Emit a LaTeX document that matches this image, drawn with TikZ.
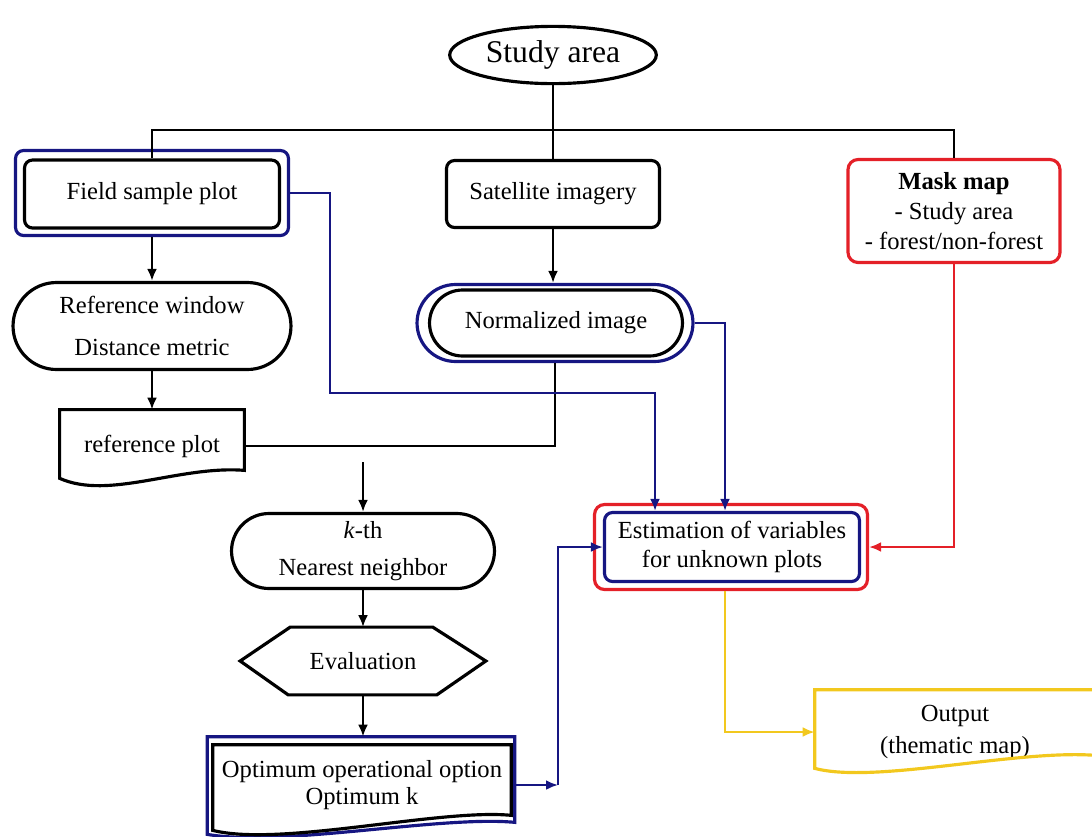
\documentclass[tikz,border=0pt]{standalone}
\usepackage{fontspec}
\setmainfont{Liberation Serif}
\usepackage{tikz}
\usetikzlibrary{shapes,arrows.meta,calc}

\definecolor{navy}{RGB}{22,22,130}
\definecolor{redline}{RGB}{228,32,40}
\definecolor{gold}{RGB}{242,200,30}

\begin{document}
\begin{tikzpicture}[x=0.02cm,y=-0.02cm]
			\tikzstyle{Txt}		= [font=\fontsize{14pt}{17pt}\selectfont, align=center, inner sep=0pt]
			\tikzstyle{Box}		= [Txt, rectangle, rounded corners=1.6mm, draw, line width=1.8pt]
			\tikzstyle{Pill}	= [Txt, rounded rectangle, draw, line width=1.8pt]
			\tikzstyle{Blank}	= [Txt, rectangle]
			\tikzstyle{Doc}		= [line width=1.8pt]
			\tikzstyle{Link}	= [line width=1.6pt]
			\tikzstyle{Arr}		= [Link, -{Latex[length=2.4mm,width=2mm]}]
			\tikzstyle{NavyL}	= [navy]
			\tikzstyle{RedL}	= [redline]
			\tikzstyle{GoldL}	= [gold]

			\useasboundingbox (0,0) rectangle (1092,836);
			\clip (0,0) rectangle (1092,836);

			\node (study) at (553,55) [ellipse, draw, line width=1.8pt, minimum width=3cm, minimum height=1.04cm, font=\fontsize{18pt}{20pt}\selectfont] {Study area};

			\node (fieldo) at (152,193) [Box, NavyL, minimum width=5.46cm, minimum height=1.7cm] {};
			\node (field) at (152,194) [Box, minimum width=5.1cm, minimum height=1.36cm] {Field sample plot};
			\node (sat) at (553,194) [Box, minimum width=4.26cm, minimum height=1.34cm] {Satellite imagery};
			\node (mask) at (954,211) [Box, RedL, text=black, rounded corners=2mm, minimum width=4.24cm, minimum height=2.06cm] {\textbf{Mask map}\\- Study area\\- forest/non-forest};

			\node (refwin) at (152,326) [Pill, minimum width=5.56cm, minimum height=1.74cm] {Reference window\\[7pt]Distance metric};
			\node (normo) at (555,323) [Pill, NavyL, minimum width=5.52cm, minimum height=1.54cm] {};
			\node (norm) at (556,323) [Pill, minimum width=5.06cm, minimum height=1.32cm] {Normalized image};
			\node (refp) at (152,446) [Blank, minimum width=3.68cm, minimum height=1.44cm] {reference plot};

			\node (knn) at (363,551) [Pill, minimum width=5.26cm, minimum height=1.5cm] {\textit{k}-th\\[4pt]Nearest neighbor};
			\node (eval) at (363,661) [Blank, minimum width=4.9cm, minimum height=1.34cm] {Evaluation};
			\node (opto) at (361,786) [Blank, minimum width=6.14cm, minimum height=1.96cm] {};
			\node (opt) at (362,785) [Blank, minimum width=5.96cm, minimum height=1.6cm] {Optimum operational option\\[-2pt]Optimum k};

			\node (esto) at (731,547) [Box, RedL, rounded corners=2mm, minimum width=5.46cm, minimum height=1.7cm] {};
			\node (est) at (732,547) [Box, NavyL, text=black, minimum width=5.1cm, minimum height=1.38cm] {Estimation of variables\\for unknown plots};
			\node (out) at (955,732) [Blank, minimum width=5.6cm, minimum height=1.68cm] {Output\\[1pt](thematic map)};

			% document and hexagon outlines
			\draw [Doc] (refp.north west) -- (refp.north east) -- ($(refp.south east)+(0,-12)$) .. controls ($(refp.south)+(27,-17)$) and ($(refp.south)+(-43,18)$) .. ($(refp.south west)+(0,-4)$) -- cycle;
			\draw [Doc] (eval.west) -- ($(eval.north west)+(50,0)$) -- ($(eval.north east)+(-53,0)$) -- (eval.east) -- ($(eval.south east)+(-49,0)$) -- ($(eval.south west)+(48,0)$) -- cycle;
			\draw [Doc, NavyL] (opto.north west) -- (opto.north east) -- ($(opto.south east)+(0,-13)$) .. controls ($(opto.south)+(80,-20)$) and ($(opto.south)+(-80,12)$) .. ($(opto.south west)+(0,-1)$) -- cycle;
			\draw [Doc] (opt.north west) -- (opt.north east) -- ($(opt.south east)+(0,-10)$) .. controls ($(opt.south)+(78,-17)$) and ($(opt.south)+(-82,22)$) .. ($(opt.south west)+(0,5)$) -- cycle;
			\draw [Doc, GoldL] (out.north west) -- (out.north east) -- ($(out.south east)+(0,-19)$) .. controls ($(out.south)+(60,-25)$) and ($(out.south)+(-80,10)$) .. ($(out.south west)+(0,-6)$) -- cycle;

			% black flow
			\coordinate (bus) at (553,130);
			\coordinate (kstart) at (363,462);
			\draw [Link] (study) to (bus);
			\draw [Link] (field.north) |- (bus) -| (mask.north);
			\draw [Link] (bus) to (sat.north);
			\draw [Arr] (fieldo.south) to (refwin.north);
			\draw [Arr] (refwin.south) to (refp.north);
			\draw [Arr] (sat.south) to (sat.south |- normo.north);
			\draw [Link] (refp.east) -| (normo.south);
			\draw [Arr] (kstart) to (knn.north);
			\draw [Arr] (knn.south) to (eval.north);
			\draw [Arr] (eval.south) to (eval.south |- opto.north);

			% coloured flow
			\coordinate (fbend) at (330,393);
			\coordinate (fdrop) at (655,393);
			\coordinate (ndrop) at (725,323);
			\coordinate (obend) at (558,782);
			\draw [Arr, NavyL] (fieldo.east) -| (fbend) -- (fdrop) -- (fdrop |- est.north);
			\draw [Arr, NavyL] (normo.east) -| (ndrop |- est.north);
			\draw [Arr, NavyL] (opto.east |- opt.east) to (obend |- opt.east);
			\draw [Arr, NavyL] (obend |- opt.east) |- (est.west);
			\draw [Arr, RedL] (mask.south) |- (esto.east);
			\draw [Arr, GoldL] (esto.south -| ndrop) |- (out.west);
		\end{tikzpicture}
\end{document}
